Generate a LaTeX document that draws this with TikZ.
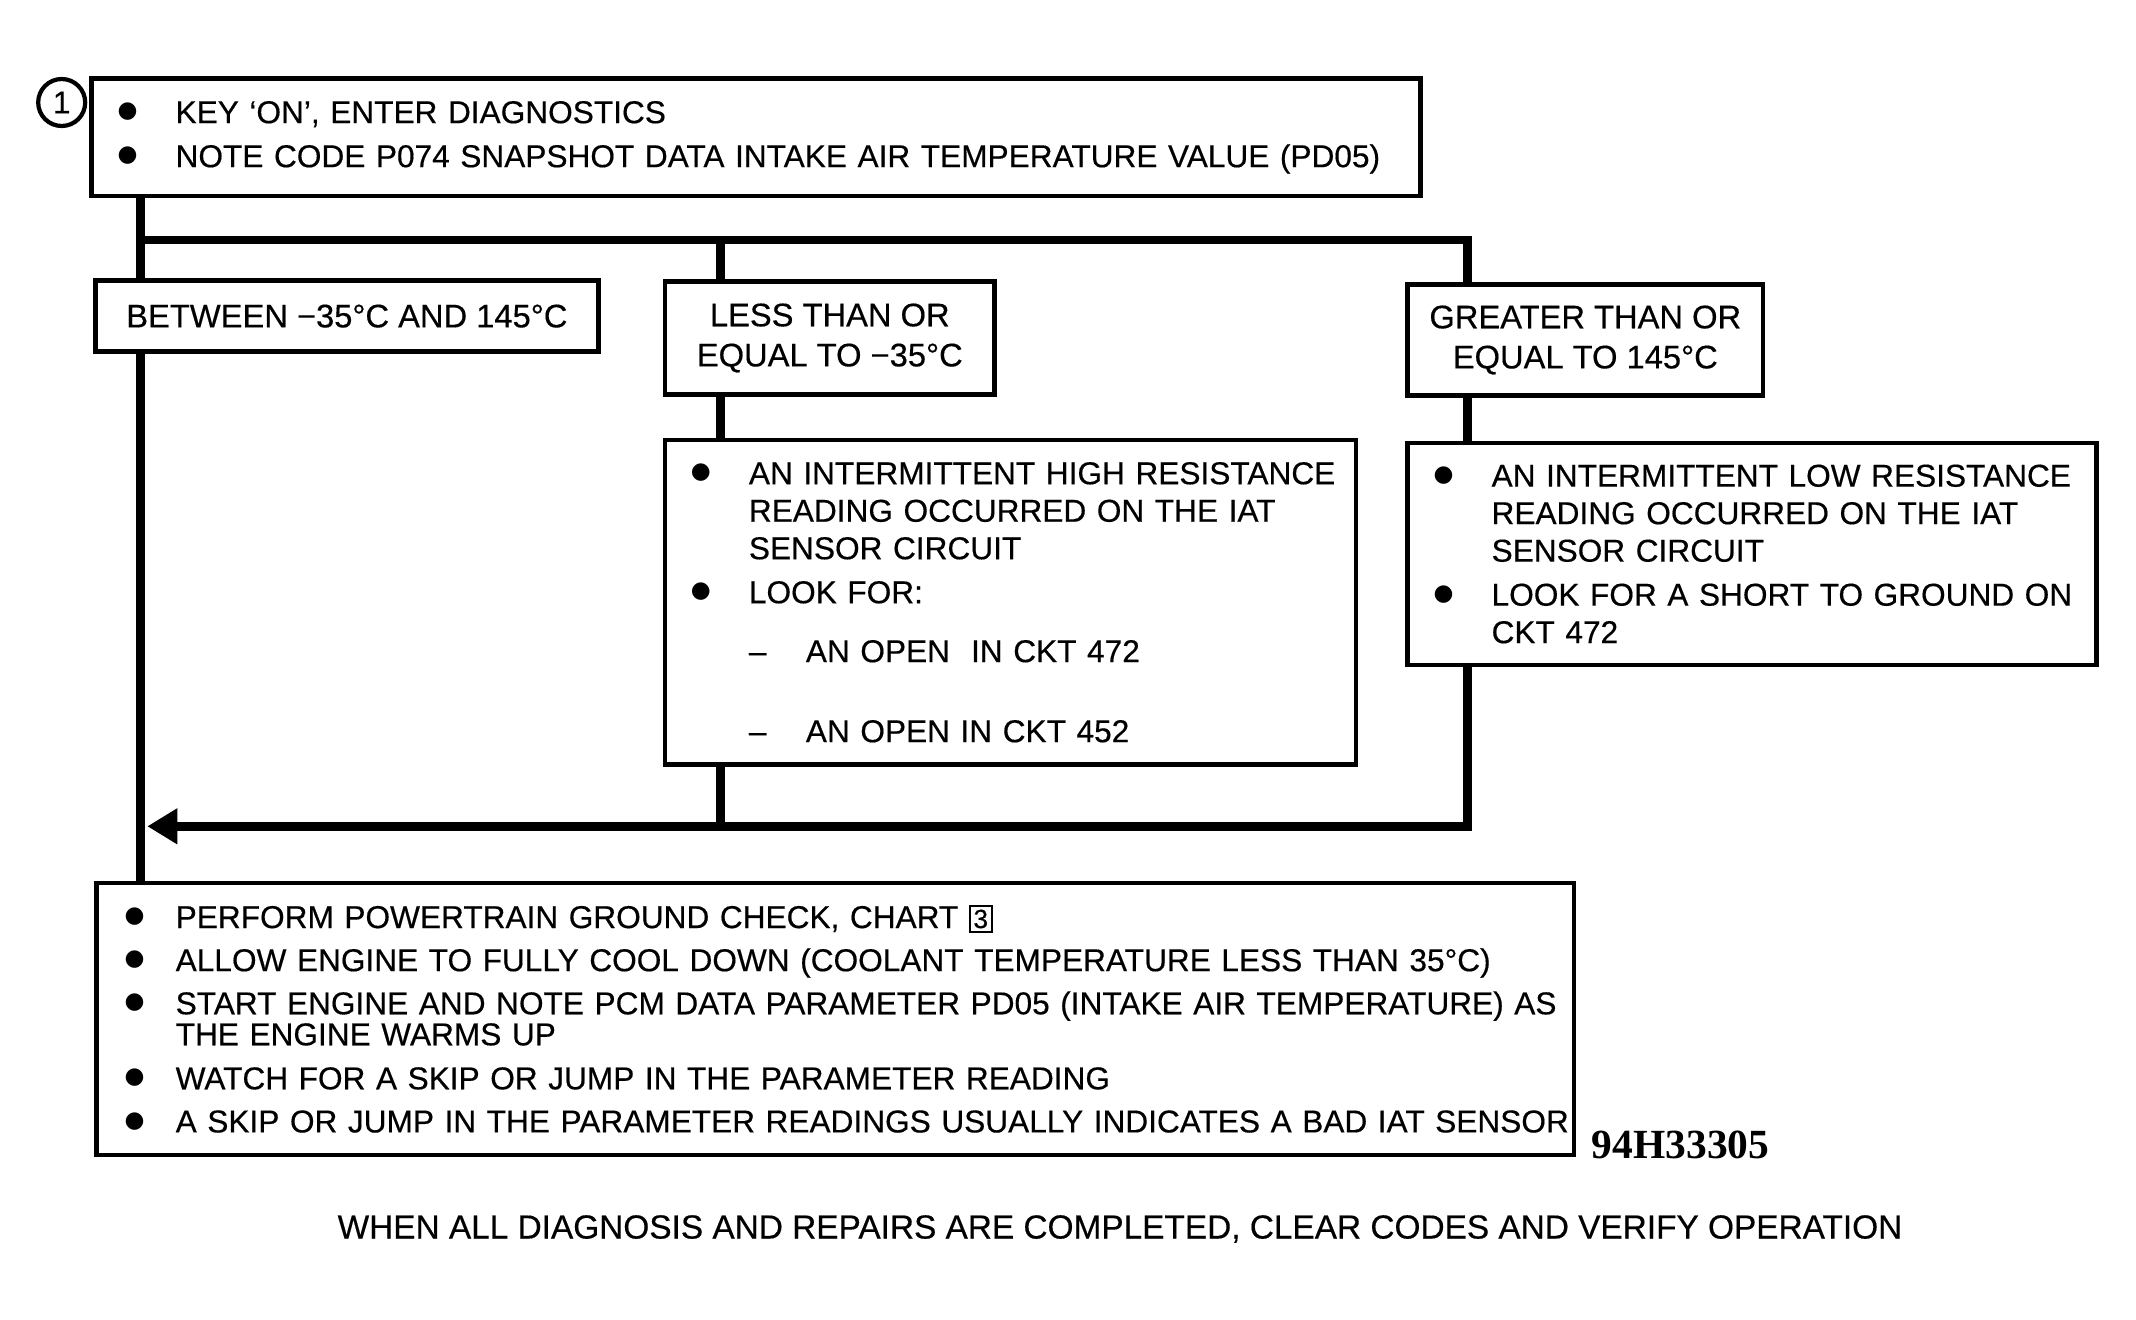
\documentclass[tikz,border=0pt]{standalone}
\usepackage{fontspec}
\setmainfont{Liberation Sans}[FakeBold=0.4]
\newfontfamily\codefont{Liberation Serif}
\newfontfamily\dotfont{DejaVu Sans}
\usetikzlibrary{arrows.meta}
\newlength{\bulw}
\setlength{\bulw}{0.58cm}
\newcommand{\bul}[1]{\makebox[\bulw][l]{\raisebox{0.97pt}{$\vcenter{\hbox{\dotfont\fontsize{6.5}{6.5}\selectfont ●}}$}}\mbox{#1}}
\newcommand{\ind}[1]{\hspace*{\bulw}\mbox{#1}}
\newcommand{\dsh}[1]{\makebox[0.57cm][l]{–}\mbox{#1}}
\newcommand{\chartno}[1]{{\setlength{\fboxsep}{0.8pt}\setlength{\fboxrule}{0.5pt}\fbox{\fontsize{7.5}{7.5}\selectfont #1}}}
\begin{document}
\begin{tikzpicture}[>={Triangle[length=0.3cm,width=0.34cm]},font=\fontsize{9}{10.67}\selectfont,
  box/.style={draw,line width=1.3pt,inner xsep=0.26cm,inner ysep=0pt,align=left},
  tag/.style={draw,line width=1.3pt,inner sep=0pt,align=center,font=\fontsize{9.3}{10.9}\selectfont},
  link/.style={line width=2.4pt}]
\useasboundingbox (0,0) rectangle (21.36,-13.19);
% boxes
\node[circle,draw,line width=1.2pt,minimum size=0.47cm,inner sep=0pt] (circ) at (0.617,-1.025) {1};
\node[box,minimum width=13.29cm,minimum height=1.175cm,text width=12.77cm] (key) at (7.561,-1.374)
  {\bul{KEY ‘ON’, ENTER DIAGNOSTICS}\\[1.85pt]
   \bul{NOTE CODE P074 SNAPSHOT DATA INTAKE AIR TEMPERATURE VALUE (PD05)}};
\node[tag,minimum width=5.03cm,minimum height=0.707cm] (btw) at (3.469,-3.161) {BETWEEN −35°C AND 145°C};
\node[tag,minimum width=3.295cm,minimum height=1.125cm] (lessq) at (8.298,-3.38) {LESS THAN OR\\[0.5pt] EQUAL TO −35°C};
\node[tag,minimum width=3.554cm,minimum height=1.105cm] (greatq) at (15.853,-3.40) {GREATER THAN OR\\[0.5pt] EQUAL TO 145°C};
\node[box,minimum width=6.909cm,minimum height=3.245cm,text width=6.39cm] (hires) at (10.104,-6.023)
  {\bul{AN INTERMITTENT HIGH RESISTANCE}\\
   \ind{READING OCCURRED ON THE IAT}\\
   \ind{SENSOR CIRCUIT}\\[1.85pt]
   \bul{LOOK FOR:}\\[6.1pt]
   \ind{\dsh{AN OPEN\ \ IN CKT 472}}\\[12.1pt]
   \ind{\dsh{AN OPEN IN CKT 452}}};
\node[box,minimum width=6.889cm,minimum height=2.22cm,text width=6.37cm] (lores) at (17.521,-5.54)
  {\bul{AN INTERMITTENT LOW RESISTANCE}\\
   \ind{READING OCCURRED ON THE IAT}\\
   \ind{SENSOR CIRCUIT}\\[1.85pt]
   \bul{LOOK FOR A SHORT TO GROUND ON}\\
   \ind{CKT 472}};
\node[box,inner xsep=0.28cm,minimum width=14.773cm,minimum height=2.718cm,text width=14.21cm] (check) at (8.352,-10.189)
  {\setlength{\bulw}{0.51cm}%
   \bul{PERFORM POWERTRAIN GROUND CHECK, CHART \chartno{3}}\\[1.6pt]
   \bul{ALLOW ENGINE TO FULLY COOL DOWN (COOLANT TEMPERATURE LESS THAN 35°C)}\\[1.6pt]
   \bul{START ENGINE AND NOTE PCM DATA PARAMETER PD05 (INTAKE AIR TEMPERATURE) AS}\\[-1.85pt]
   \ind{THE ENGINE WARMS UP}\\[1.85pt]
   \bul{WATCH FOR A SKIP OR JUMP IN THE PARAMETER READING}\\[1.6pt]
   \bul{A SKIP OR JUMP IN THE PARAMETER READINGS USUALLY INDICATES A BAD IAT SENSOR}};
\node (code) at (16.805,-11.45) {\codefont\bfseries\fontsize{11.8}{12}\selectfont 94H33305};
\node[font=\fontsize{9.5}{11}\selectfont] (clear) at (11.20,-12.29) {WHEN ALL DIAGNOSIS AND REPAIRS ARE COMPLETED, CLEAR CODES AND VERIFY OPERATION};
% connectors
\coordinate (bus w) at (1.404,-2.399);
\coordinate (bus m) at (7.207,-2.399);
\coordinate (bus e) at (14.673,-2.399);
\coordinate (ret) at (1.473,-8.263);
\draw[link] (key.south -| bus w) -- (btw.north -| bus w);
\draw[link] (btw.south -| bus w) -- (check.north -| bus w);
\draw[link] (bus w) -- (bus e) -- (greatq.north -| bus e);
\draw[link] (bus m) -- (lessq.north -| bus m);
\draw[link] (lessq.south -| bus m) -- (hires.north -| bus m);
\draw[link] (greatq.south -| bus e) -- (lores.north -| bus e);
\draw[link] (hires.south -| bus m) -- (bus m |- ret);
\draw[link,->] (lores.south -| bus e) |- (ret);
\end{tikzpicture}
\end{document}
